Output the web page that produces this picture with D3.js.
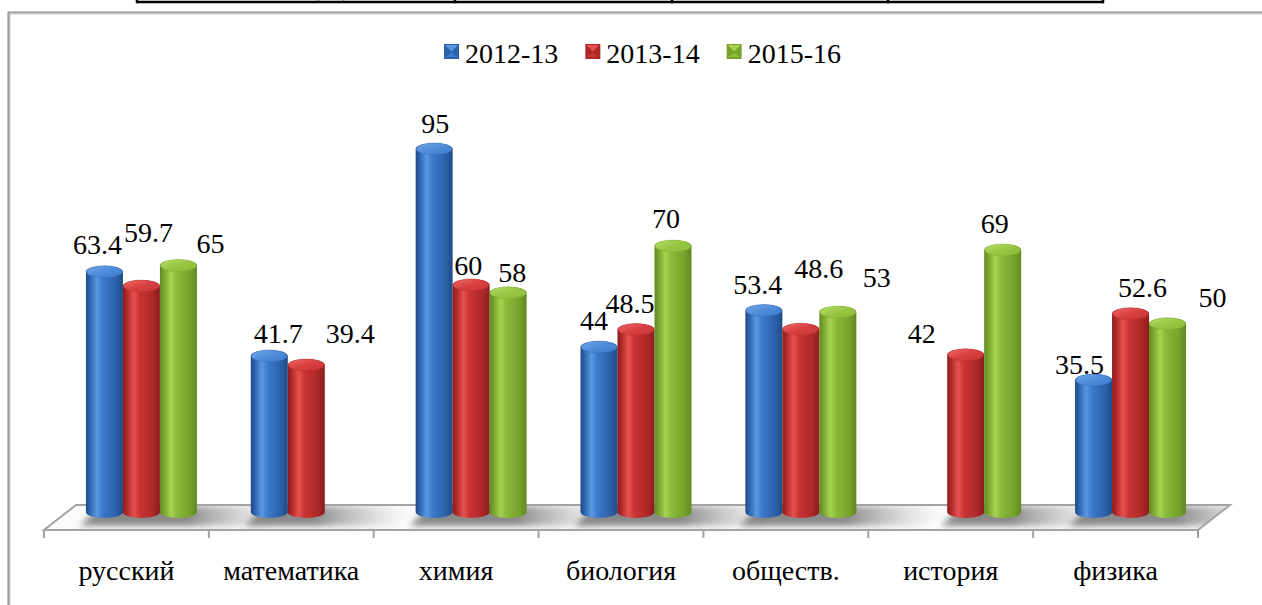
<!DOCTYPE html>
<html><head><meta charset="utf-8">
<script src="https://cdn.jsdelivr.net/npm/d3@7"></script>
<style>
html,body{margin:0;padding:0;background:#fff;overflow:hidden}
svg{display:block}
</style></head><body>
<svg id="chart" width="1262" height="605"></svg>
<script>
// ---- data ----
const categories = ["русский","математика","химия","биология","обществ.","история","физика"];
const seriesNames = ["2012-13","2013-14","2015-16"];
const values2012 = [63.4, 41.7, 95, 44, 53.4, null, 35.5];
const values2013 = [59.7, 39.4, 60, 48.5, 48.6, 42, 52.6];
const values2015 = [65, null, 58, 70, 53, 69, 50];
const valueLabels2012 = ["63.4","41.7","95","44","53.4",null,"35.5"];
const valueLabels2013 = ["59.7","39.4","60","48.5","48.6","42","52.6"];
const valueLabels2015 = ["65",null,"58","70","53","69","50"];

// ---- layout / style (not data) ----
const FONTFAM = "'Liberation Serif', 'Times New Roman', Tinos, 'DejaVu Serif', 'Noto Serif', serif";
const seriesValues = [values2012, values2013, values2015];
const seriesLabels = [valueLabels2012, valueLabels2013, valueLabels2015];
const palette = [
  {edge:"#1f4a86", dark:"#2c62aa", main:"#3c7acb", light:"#5a98e2", cap:"#4f8bd8", capLight:"#74a8ea"},
  {edge:"#8a1c1c", dark:"#ad2828", main:"#c93434", light:"#e65250", cap:"#d84040", capLight:"#ee6a66"},
  {edge:"#5f8a1f", dark:"#77a22c", main:"#8cba3a", light:"#a7d251", cap:"#98c644", capLight:"#b8de6c"}
];
// label nudges relative to the default position (bar centre, above cap)
const labelNudge = [
  [[-7,-1],[9,4],[1,1],[-5,0],[-6,0],[0,0],[-14,11]],
  [[7,-27],[44,-5],[-3,7],[-6,0],[18,-34],[-44,5],[12,0]],
  [[32,5],[0,0],[4,6],[-7,-1],[39,-8],[-8,0],[45,0]]
];
const FONT = 28;

const svg = d3.select("#chart");
const defs = svg.append("defs");
const txt = (sel)=>sel.style("font-family",FONTFAM).attr("fill","#000");

palette.forEach((p,i)=>{
  const g = defs.append("linearGradient").attr("id","body"+i).attr("x1","0").attr("x2","1").attr("y1","0").attr("y2","0");
  [[0,p.edge],[0.1,p.dark],[0.3,p.light],[0.45,p.main],[0.8,p.dark],[1,p.edge]].forEach(s=>g.append("stop").attr("offset",s[0]).attr("stop-color",s[1]));
  const c = defs.append("linearGradient").attr("id","cap"+i).attr("x1","0").attr("x2","1").attr("y1","0").attr("y2","1");
  [[0,p.capLight],[0.5,p.cap],[1,p.main]].forEach(s=>c.append("stop").attr("offset",s[0]).attr("stop-color",s[1]));
});
defs.append("filter").attr("id","blur").attr("x","-20%").attr("y","-50%").attr("width","140%").attr("height","200%")
  .append("feGaussianBlur").attr("stdDeviation",3);

// ---- top table fragment ----
const tableCols = [137,455,672,888,1103];
svg.append("line").attr("x1",137).attr("x2",1104).attr("y1",2).attr("y2",2).attr("stroke","#000").attr("stroke-width",2.5);
tableCols.forEach(cx=>svg.append("line").attr("x1",cx).attr("x2",cx).attr("y1",0).attr("y2",3.2).attr("stroke","#000").attr("stroke-width",2.5));
txt(svg.append("text").attr("x",331).attr("y",-4).attr("text-anchor","middle").style("font-size","26px")).attr("fill","#666").text("(%)");

// ---- chart frame ----
svg.append("path").attr("d","M8.5,700 V12.5 H1300").attr("fill","none").attr("stroke","#999").attr("stroke-width",2.2);
svg.append("path").attr("d","M10.5,700 V14.5 H1300").attr("fill","none").attr("stroke","#e2e2e2").attr("stroke-width",1);

// ---- scales ----
const x = d3.scaleBand().domain(categories).range([44,1198]).padding(0);
const y = d3.scaleLinear().domain([0,100]).range([512,123.5]);
const depthX = 32, depthY = 25, barW = 37, ry = 6, baseY = 512, midShift = 15;
const barCx = (ci,si)=> x(categories[ci]) + x.bandwidth()/2 + midShift + (si-1)*barW;

// ---- floor ----
const floorY = 530;
const floorPts = [[x.range()[0],floorY],[x.range()[1],floorY],[x.range()[1]+depthX,floorY-depthY],[x.range()[0]+depthX,floorY-depthY]];
defs.append("clipPath").attr("id","floorClip").append("polygon").attr("points",floorPts.map(p=>p.join(",")).join(" "));
svg.append("polygon").attr("points",floorPts.map(p=>p.join(",")).join(" ")).attr("fill","#fbfbfb");
const shadowLayer = svg.append("g").attr("clip-path","url(#floorClip)");
categories.forEach((c,ci)=>{
  const present = [0,1,2].filter(si=>seriesValues[si][ci]!=null);
  if(!present.length) return;
  const xl = barCx(ci,present[0]) - barW/2, xr = barCx(ci,present[present.length-1]) + barW/2;
  const g = shadowLayer.append("g").attr("filter","url(#blur)");
  const gid = "sh"+ci;
  const lg = defs.append("linearGradient").attr("id",gid).attr("gradientUnits","userSpaceOnUse").attr("x1",xr-10).attr("x2",xr+85).attr("y1",0).attr("y2",0);
  lg.append("stop").attr("offset",0).attr("stop-color","#6e6e6e").attr("stop-opacity",0.8);
  lg.append("stop").attr("offset",0.5).attr("stop-color","#9a9a9a").attr("stop-opacity",0.45);
  lg.append("stop").attr("offset",1).attr("stop-color","#c0c0c0").attr("stop-opacity",0);
  g.append("polygon").attr("points",[[xl-6,floorY-4],[xr+70,floorY-4],[xr+95,floorY-24],[xl+14,floorY-24]].map(p=>p.join(",")).join(" "))
    .attr("fill","url(#"+gid+")");
});
svg.append("polygon").attr("points",floorPts.map(p=>p.join(",")).join(" ")).attr("fill","none").attr("stroke","#a3a3a3").attr("stroke-width",2).attr("stroke-linejoin","miter");

const tickXs = categories.map(c=>x(c)).concat([x.range()[1]]);
svg.selectAll("line.tick").data(tickXs).enter().append("line").attr("class","tick")
  .attr("x1",d=>d).attr("x2",d=>d).attr("y1",floorY).attr("y2",floorY+8).attr("stroke","#a3a3a3").attr("stroke-width",2);

// ---- bars (cylinders) ----
const barLayer = svg.append("g");
categories.forEach((c,ci)=>{
  [0,1,2].forEach(si=>{
    const v = seriesValues[si][ci];
    if(v==null) return;
    const cx = barCx(ci,si), rx = barW/2, x0 = cx-rx, x1 = cx+rx;
    const yt = y(v)+ry;
    barLayer.append("path")
      .attr("d",`M${x0},${yt} L${x0},${baseY} A${rx},${ry} 0 0 0 ${x1},${baseY} L${x1},${yt} A${rx},${ry} 0 0 0 ${x0},${yt} Z`)
      .attr("fill",`url(#body${si})`);
    barLayer.append("ellipse").attr("cx",cx).attr("cy",yt).attr("rx",rx-0.5).attr("ry",ry)
      .attr("fill",`url(#cap${si})`).attr("stroke",palette[si].dark).attr("stroke-width",0.6).attr("stroke-opacity",0.6);
  });
});

// ---- value labels ----
categories.forEach((c,ci)=>{
  [0,1,2].forEach(si=>{
    const v = seriesValues[si][ci];
    if(v==null) return;
    const n = labelNudge[si][ci];
    txt(svg.append("text").attr("x",barCx(ci,si)+n[0]).attr("y",y(v)-11+n[1])
      .attr("text-anchor","middle").style("font-size",FONT+"px")).text(seriesLabels[si][ci]);
  });
});

// ---- category labels ----
txt(svg.selectAll("text.cat").data(categories).enter().append("text").attr("class","cat")
  .attr("x",d=>x(d)+x.bandwidth()/2).attr("y",580).attr("text-anchor","middle")
  .style("font-size",FONT+"px")).text(d=>d);

// ---- legend ----
const leg = svg.append("g");
const items = [];
seriesNames.forEach((name,i)=>{
  const g = leg.append("g");
  const sz = 15;
  g.append("rect").attr("x",0).attr("y",-sz).attr("width",sz).attr("height",sz).attr("fill",palette[i].dark);
  g.append("polygon").attr("points",`1,${-sz+1} ${sz-1},${-sz+1} ${sz/2},${-sz/2}`).attr("fill",palette[i].light);
  g.append("polygon").attr("points",`2,-2 ${sz-2},-2 ${sz/2},${-sz/2+1}`).attr("fill",palette[i].main);
  const t = txt(g.append("text").attr("x",sz+6).attr("y",0).style("font-size",FONT+"px").attr("dy","0.16em")).text(name);
  const w = sz+6+t.node().getComputedTextLength();
  items.push({g,w});
});
const gap = 27;
const total = d3.sum(items,d=>d.w)+gap*(items.length-1);
let lx = 642.5 - total/2;
items.forEach(it=>{ it.g.attr("transform",`translate(${lx},59)`); lx += it.w+gap; });
</script>
</body></html>
